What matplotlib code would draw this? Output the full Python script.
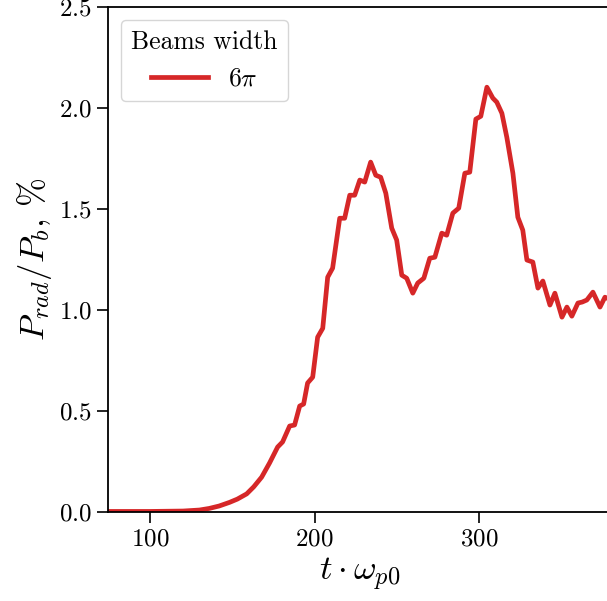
import matplotlib
matplotlib.use("Agg")
import matplotlib.pyplot as plt

plt.rcParams["font.family"] = "serif"
plt.rcParams["font.serif"] = ["cmr10"]
plt.rcParams["mathtext.fontset"] = "cm"
plt.rcParams["axes.formatter.use_mathtext"] = True

# time (t * omega_p0) and radiated power fraction, %
t = [75, 100, 120, 130, 136, 142, 148.3, 153, 158.7, 163, 167.8, 172.6, 177.5,
     180.5, 184.8, 187.8, 190.9, 193.3, 195.7, 198.8, 201.8, 204.9, 207.9,
     210.9, 215.2, 218.2, 221.3, 224.3, 227.4, 230.4, 234.0, 237.1, 240.1,
     243.2, 246.8, 249.8, 252.9, 255.9, 259.6, 262.6, 266.3, 269.9, 273.0,
     277.2, 280.2, 283.9, 287.5, 291.2, 294.2, 297.9, 300.9, 304.6, 308.2,
     310.6, 313.7, 316.7, 320.4, 323.4, 326.4, 328.9, 332.5, 335.6, 338.6,
     342.9, 345.9, 350.2, 353.2, 356.2, 359.9, 362.5, 365.3, 369.0, 373.3,
     376.3, 380.0]
p_rad = [0.003, 0.003, 0.005, 0.01, 0.018, 0.03, 0.048, 0.064, 0.09, 0.125,
         0.173, 0.243, 0.322, 0.347, 0.426, 0.431, 0.525, 0.535, 0.639, 0.668,
         0.866, 0.91, 1.163, 1.208, 1.455, 1.455, 1.569, 1.569, 1.644, 1.634,
         1.733, 1.668, 1.658, 1.579, 1.406, 1.347, 1.173, 1.158, 1.084, 1.134,
         1.158, 1.257, 1.262, 1.381, 1.371, 1.480, 1.505, 1.678, 1.683, 1.946,
         1.960, 2.104, 2.050, 2.030, 1.975, 1.856, 1.678, 1.460, 1.396, 1.248,
         1.238, 1.109, 1.144, 1.025, 1.084, 0.965, 1.015, 0.970, 1.035, 1.04,
         1.050, 1.089, 1.015, 1.064, 1.05]

fig = plt.figure(figsize=(6.07, 6.01), dpi=100)
ax = fig.add_axes([0.178, 0.148, 0.830, 0.840])

ax.plot(t, p_rad, color="#d62728", lw=3.4, label=r"$6\pi$")

ax.set_xlim(74.5, 380.5)
ax.set_ylim(0, 2.5)
ax.set_xticks([100, 200, 300])
ax.set_yticks([0.0, 0.5, 1.0, 1.5, 2.0, 2.5])
ax.tick_params(labelsize=18, length=8, width=1.2)
for s in ax.spines.values():
    s.set_linewidth(1.3)

ax.set_xlabel(r"$t \cdot \omega_{p0}$", fontsize=25)
ax.set_ylabel(r"$P_{rad}/P_b$, %", fontsize=25)

ax.legend(title="Beams width", fontsize=18.5, title_fontsize=18.5,
          loc="upper left", handlelength=2.2)

fig.savefig("out.png", dpi=100)
